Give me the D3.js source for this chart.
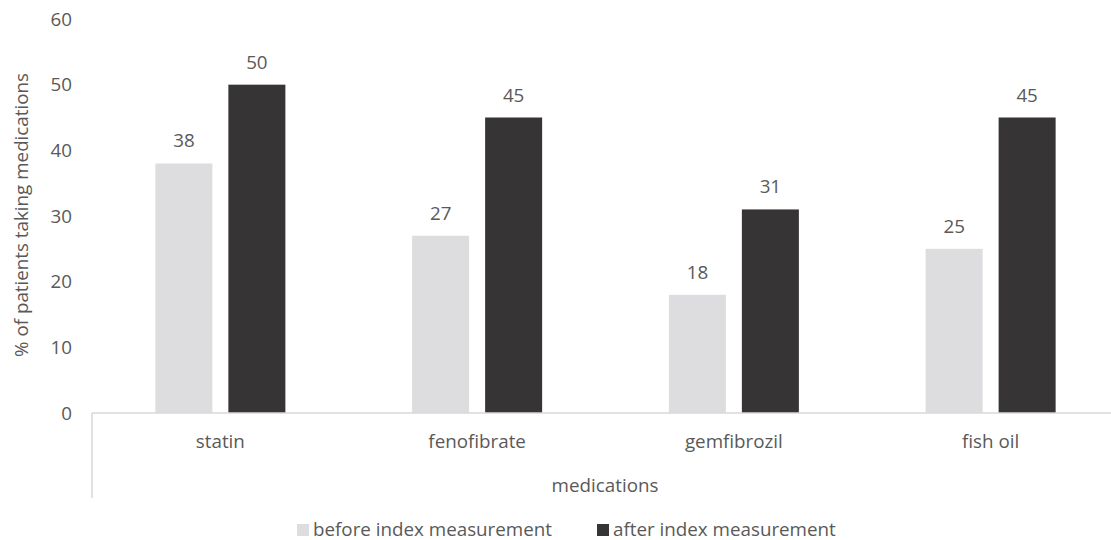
<!DOCTYPE html>
<html>
<head>
<meta charset="utf-8">
<script src="https://cdn.jsdelivr.net/npm/d3@7"></script>
<style>
  body { margin: 0; background: #fff; }
  text { font-family: "Open Sans", sans-serif; fill: #595959; }
</style>
</head>
<body>
<svg id="chart" width="1111" height="540"></svg>
<script>
var categories = ['statin', 'fenofibrate', 'gemfibrozil', 'fish oil'];
var seriesNames = ['before index measurement', 'after index measurement'];
var before = [38, 27, 18, 25];
var after = [50, 45, 31, 45];
var yTicks = [0, 10, 20, 30, 40, 50, 60];
var colors = ['#dddddf', '#363435'];

var svg = d3.select('#chart');
var plotLeft = 92, plotRight = 1119, plotTop = 19, plotBottom = 413;
var fs = '18.8px';

var x = d3.scaleBand().domain(categories).range([plotLeft, plotRight]);
var xSub = d3.scaleOrdinal().domain([0, 1]).range([-65, 8]);
var barW = 57;
var y = d3.scaleLinear().domain([0, 60]).range([plotBottom, plotTop]);

// y tick labels (no axis line)
svg.append('g').selectAll('text')
  .data(yTicks)
  .enter().append('text')
  .attr('x', 72)
  .attr('y', function(d) { return y(d); })
  .attr('dy', '0.35em')
  .attr('text-anchor', 'end')
  .style('font-size', fs)
  .text(function(d) { return d; });

// bars
var rows = categories.map(function(c, i) { return { cat: c, vals: [before[i], after[i]] }; });
var groups = svg.append('g').selectAll('g')
  .data(rows)
  .enter().append('g')
  .attr('transform', function(d) { return 'translate(' + (x(d.cat) + x.bandwidth() / 2) + ',0)'; });

groups.selectAll('rect')
  .data(function(d) { return d.vals; })
  .enter().append('rect')
  .attr('x', function(d, i) { return xSub(i); })
  .attr('y', function(d) { return y(d); })
  .attr('width', barW)
  .attr('height', function(d) { return plotBottom - y(d); })
  .attr('fill', function(d, i) { return colors[i]; });

groups.selectAll('text')
  .data(function(d) { return d.vals; })
  .enter().append('text')
  .attr('x', function(d, i) { return xSub(i) + barW / 2; })
  .attr('y', function(d) { return y(d) - 16; })
  .attr('text-anchor', 'middle')
  .style('font-size', fs)
  .text(function(d) { return d; });

// x axis
svg.append('line')
  .attr('x1', plotLeft).attr('x2', 1111)
  .attr('y1', plotBottom).attr('y2', plotBottom)
  .attr('stroke', '#d9d9d9').attr('stroke-width', 1.5);
svg.append('line')
  .attr('x1', plotLeft).attr('x2', plotLeft)
  .attr('y1', plotBottom).attr('y2', 498)
  .attr('stroke', '#d9d9d9').attr('stroke-width', 1.5);

svg.append('g').selectAll('text')
  .data(categories)
  .enter().append('text')
  .attr('x', function(d) { return x(d) + x.bandwidth() / 2; })
  .attr('y', 448)
  .attr('text-anchor', 'middle')
  .style('font-size', fs)
  .text(function(d) { return d; });

svg.append('text')
  .attr('x', 605).attr('y', 492)
  .attr('text-anchor', 'middle')
  .style('font-size', fs)
  .text('medications');

svg.append('text')
  .attr('transform', 'translate(28,215) rotate(-90)')
  .attr('text-anchor', 'middle')
  .style('font-size', fs)
  .text('% of patients taking medications');

// legend
var legendX = [297, 597];
var legend = svg.append('g').selectAll('g')
  .data(seriesNames)
  .enter().append('g')
  .attr('transform', function(d, i) { return 'translate(' + legendX[i] + ',0)'; });
legend.append('rect')
  .attr('x', 0).attr('y', 524)
  .attr('width', 12).attr('height', 12)
  .attr('fill', function(d, i) { return colors[i]; });
legend.append('text')
  .attr('x', 16).attr('y', 536)
  .style('font-size', fs)
  .text(function(d) { return d; });
</script>
</body>
</html>
